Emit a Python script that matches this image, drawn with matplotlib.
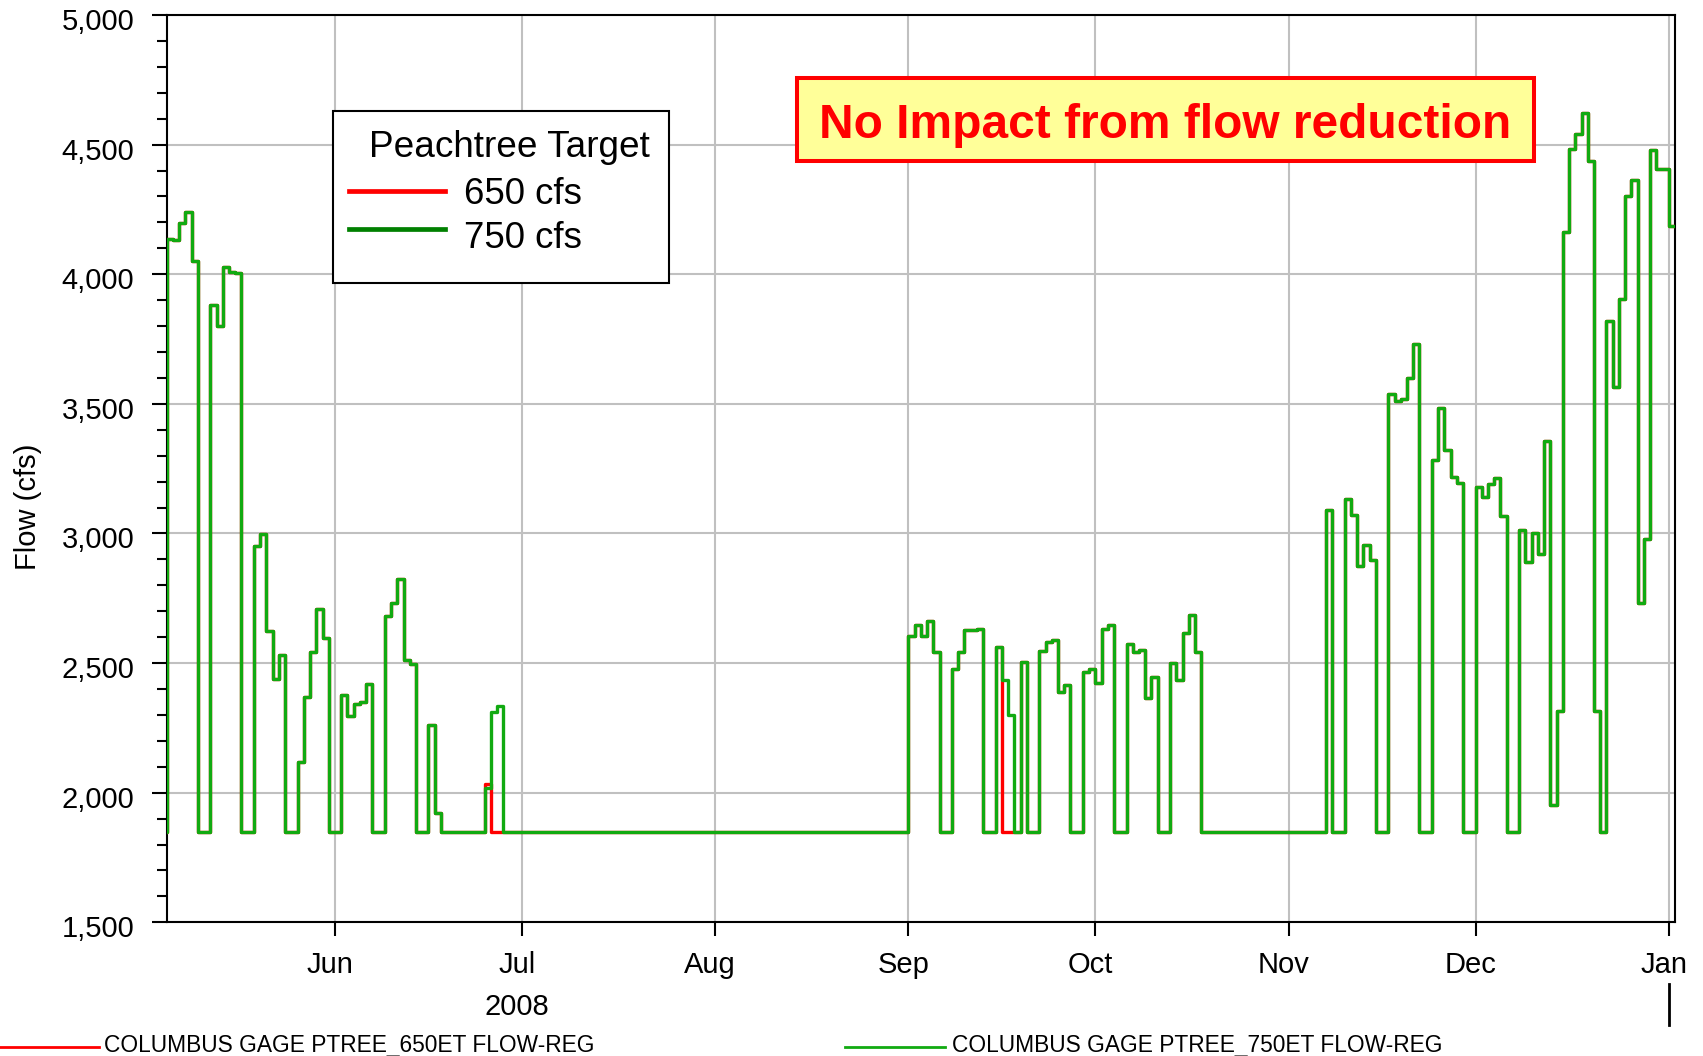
import pandas as pd
import matplotlib
matplotlib.use("Agg")
import matplotlib.pyplot as plt
import matplotlib.dates as mdates
import matplotlib.transforms as mtransforms
from matplotlib.patches import Rectangle
from matplotlib.lines import Line2D

plt.rcParams['font.family'] = ['Liberation Sans', 'DejaVu Sans']

W, H = 1703, 1056

# regulated flow at Columbus gage (cfs); each value holds until the next date
may_jun = [("2008-05-04", 1850), ("2008-05-05", 4137), ("2008-05-06", 4131), ("2008-05-07", 4196),
           ("2008-05-08", 4241), ("2008-05-09", 4052), ("2008-05-10", 1850), ("2008-05-12", 3880),
           ("2008-05-13", 3800), ("2008-05-14", 4028), ("2008-05-15", 4007), ("2008-05-16", 4003),
           ("2008-05-17", 1850), ("2008-05-19", 2950), ("2008-05-20", 2997), ("2008-05-21", 2625),
           ("2008-05-22", 2437), ("2008-05-23", 2530), ("2008-05-24", 1850), ("2008-05-26", 2117),
           ("2008-05-27", 2370), ("2008-05-28", 2542), ("2008-05-29", 2708), ("2008-05-30", 2595),
           ("2008-05-31", 1850), ("2008-06-02", 2378), ("2008-06-03", 2295), ("2008-06-04", 2342),
           ("2008-06-05", 2350), ("2008-06-06", 2420), ("2008-06-07", 1850), ("2008-06-09", 2683),
           ("2008-06-10", 2733), ("2008-06-11", 2825), ("2008-06-12", 2513), ("2008-06-13", 2497),
           ("2008-06-14", 1850), ("2008-06-16", 2262), ("2008-06-17", 1920), ("2008-06-18", 1850),
           ("2008-06-25", 2020), ("2008-06-26", 2313), ("2008-06-27", 2333), ("2008-06-28", 1850)]

sep_oct = [("2008-09-01", 2603), ("2008-09-02", 2646), ("2008-09-03", 2603), ("2008-09-04", 2662),
           ("2008-09-05", 2543), ("2008-09-06", 1850), ("2008-09-08", 2478), ("2008-09-09", 2543),
           ("2008-09-10", 2629), ("2008-09-12", 2633), ("2008-09-13", 1850), ("2008-09-15", 2562),
           ("2008-09-16", 2436), ("2008-09-17", 2298), ("2008-09-18", 1850), ("2008-09-19", 2504),
           ("2008-09-20", 1850), ("2008-09-22", 2545), ("2008-09-23", 2581), ("2008-09-24", 2590),
           ("2008-09-25", 2388), ("2008-09-26", 2414), ("2008-09-27", 1850), ("2008-09-29", 2465),
           ("2008-09-30", 2478), ("2008-10-01", 2423), ("2008-10-02", 2633), ("2008-10-03", 2646),
           ("2008-10-04", 1850), ("2008-10-06", 2575), ("2008-10-07", 2543), ("2008-10-08", 2549),
           ("2008-10-09", 2366), ("2008-10-10", 2446), ("2008-10-11", 1850), ("2008-10-13", 2500),
           ("2008-10-14", 2436), ("2008-10-15", 2616), ("2008-10-16", 2684), ("2008-10-17", 2543),
           ("2008-10-18", 1850)]

nov_jan = [("2008-11-07", 3089), ("2008-11-08", 1850), ("2008-11-10", 3131), ("2008-11-11", 3070),
           ("2008-11-12", 2873), ("2008-11-13", 2955), ("2008-11-14", 2896), ("2008-11-15", 1850),
           ("2008-11-17", 3539), ("2008-11-18", 3511), ("2008-11-19", 3517), ("2008-11-20", 3601),
           ("2008-11-21", 3730), ("2008-11-22", 1850), ("2008-11-24", 3282), ("2008-11-25", 3483),
           ("2008-11-26", 3321), ("2008-11-27", 3217), ("2008-11-28", 3193), ("2008-11-29", 1850),
           ("2008-12-01", 3179), ("2008-12-02", 3142), ("2008-12-03", 3190), ("2008-12-04", 3213),
           ("2008-12-05", 3066), ("2008-12-06", 1850), ("2008-12-08", 3015), ("2008-12-09", 2891),
           ("2008-12-10", 3001), ("2008-12-11", 2921), ("2008-12-12", 3355), ("2008-12-13", 1952),
           ("2008-12-14", 2314), ("2008-12-15", 4161), ("2008-12-16", 4482), ("2008-12-17", 4540),
           ("2008-12-18", 4623), ("2008-12-19", 4436), ("2008-12-20", 2317), ("2008-12-21", 1850),
           ("2008-12-22", 3820), ("2008-12-23", 3565), ("2008-12-24", 3904), ("2008-12-25", 4302),
           ("2008-12-26", 4362), ("2008-12-27", 2731), ("2008-12-28", 2979), ("2008-12-29", 4478),
           ("2008-12-30", 4407), ("2008-12-31", 4407), ("2009-01-01", 4186), ("2009-01-02", 4186)]

# days where the 650 cfs target run differs from the 750 cfs run
diff_650 = [("2008-06-25", 2032), ("2008-06-26", 1850), ("2008-06-27", 1850),
            ("2008-09-16", 1850), ("2008-09-17", 1850)]


def to_series(pairs):
    return pd.Series([p[1] for p in pairs], index=pd.to_datetime([p[0] for p in pairs]))


flow_750 = pd.concat([to_series(may_jun), to_series(sep_oct), to_series(nov_jan)])
flow_750 = flow_750.asfreq('D', method='ffill')
flow_650 = flow_750.copy()
for d, v in diff_650:
    flow_650[pd.Timestamp(d)] = v


def fx(px):
    return px / W


def fy(py):
    return 1 - py / H


fig = plt.figure(figsize=(W / 100, H / 100), dpi=100)
ax = fig.add_axes([fx(166.7), fy(922.3), fx(1675) - fx(166.7), fy(15) - fy(922.3)])

ax.step(flow_650.index, flow_650.values, where='post', color='#ff0000', lw=2.4, zorder=3)
ax.step(flow_750.index, flow_750.values, where='post', color='#11aa11', lw=2.4, zorder=4)

ax.set_xlim(pd.Timestamp("2008-05-05"), pd.Timestamp("2009-01-02"))
ax.set_ylim(1500, 5000)

ax.xaxis.set_major_locator(mdates.MonthLocator())
ax.xaxis.set_major_formatter(mdates.DateFormatter('%b'))
ax.yaxis.set_major_locator(plt.MultipleLocator(500))
ax.yaxis.set_minor_locator(plt.MultipleLocator(100))
ax.yaxis.set_major_formatter(plt.FuncFormatter(lambda v, p: f"{int(v):,}"))

ax.grid(True, which='major', color='#c0c0c0', lw=1.5, zorder=0)
ax.set_axisbelow(True)
for s in ax.spines.values():
    s.set_linewidth(1.5)

ax.tick_params(axis='y', which='major', length=10.8, width=1.5, pad=12.5, labelsize=21)
ax.tick_params(axis='y', which='minor', length=7.2, width=1.5)
ax.tick_params(axis='x', which='major', length=10, width=1.5, pad=10.5, labelsize=21)

# labels in the original sit a little lower (y) and a little left (x) of their ticks
ydown = mtransforms.ScaledTranslation(0, -4 / 100, fig.dpi_scale_trans)
for lbl in ax.get_yticklabels():
    lbl.set_transform(lbl.get_transform() + ydown)
xleft = mtransforms.ScaledTranslation(-5 / 100, 0, fig.dpi_scale_trans)
for lbl in ax.get_xticklabels():
    lbl.set_transform(lbl.get_transform() + xleft)

fig.text(fx(27.7), fy(506.7), "Flow (cfs)", rotation=90, ha='center', va='center', fontsize=21)

# year label and year divider below the date axis
trans = ax.get_xaxis_transform()
ax.text(pd.Timestamp("2008-07-01"), -0.093, "2008", transform=trans + xleft, ha='center', va='center',
        fontsize=21)
ax.plot([pd.Timestamp("2009-01-01")] * 2, [-0.068, -0.1132], transform=trans, color='black',
        lw=2, clip_on=False)

# legend box
fig.patches.append(Rectangle((fx(332.7), fy(283.3)), fx(669) - fx(332.7), fy(111) - fy(283.3),
                             transform=fig.transFigure, fc='white', ec='black', lw=1.5, zorder=5))
fig.text(fx(369), fy(156.7), "Peachtree Target", fontsize=26.6, va='baseline', zorder=6)
fig.lines.append(Line2D([fx(349.3), fx(445)], [fy(190.7)] * 2, transform=fig.transFigure,
                        color='#ff0000', lw=3.4, zorder=6))
fig.lines.append(Line2D([fx(349.3), fx(445)], [fy(229)] * 2, transform=fig.transFigure,
                        color='#008000', lw=3.4, zorder=6))
fig.text(fx(464), fy(204), "650 cfs", fontsize=26.4, va='baseline', zorder=6)
fig.text(fx(464), fy(247.7), "750 cfs", fontsize=26.4, va='baseline', zorder=6)

# note box
fig.patches.append(Rectangle((fx(796.7), fy(161.3)), fx(1534.4) - fx(796.7), fy(78) - fy(161.3),
                             transform=fig.transFigure, fc='#ffff99', ec='#ff0000', lw=2.9, zorder=5))
fig.text(fx(1165.6), fy(138.3), "No Impact from flow reduction", fontsize=34.5, fontweight='bold',
         color='#ff0000', ha='center', va='baseline', zorder=6)

# series key along the bottom
fig.lines.append(Line2D([fx(0), fx(98.7)], [fy(1046.7)] * 2, transform=fig.transFigure,
                        color='#ff0000', lw=2))
fig.text(fx(104), fy(1052.3), "COLUMBUS GAGE PTREE_650ET FLOW-REG", fontsize=16.4, va='baseline')
fig.lines.append(Line2D([fx(845), fx(945)], [fy(1046.7)] * 2, transform=fig.transFigure,
                        color='#11aa11', lw=2))
fig.text(fx(952.5), fy(1052.3), "COLUMBUS GAGE PTREE_750ET FLOW-REG", fontsize=16.4, va='baseline')

fig.savefig("out.png", dpi=100)
